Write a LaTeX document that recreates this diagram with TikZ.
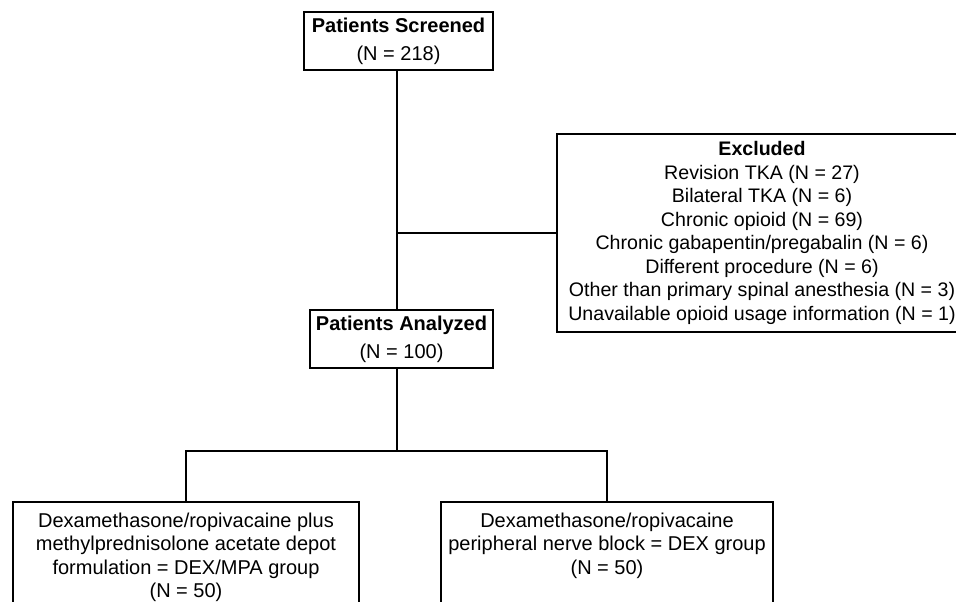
\documentclass[tikz,border=0pt]{standalone}
\usepackage{fontspec}
\setmainfont{Liberation Sans}
\begin{document}
\begin{tikzpicture}[x=0.75pt,y=-0.75pt]
	\tikzset{
		box/.style={draw,line width=1.5pt,inner sep=0pt,align=center},
		link/.style={line width=1.5pt},
		txt/.style={inner sep=0pt,align=center}
	}
	\fontsize{15}{17.6}\selectfont
	\useasboundingbox (0,0) rectangle (956,602);
	\clip (0,0) rectangle (956,602);
	
	\coordinate (trunk) at (397,0);
	
	% top boxes
	\node[box,minimum width=189*0.75pt,minimum height=58*0.75pt] (screened) at (398.5,41.5)
	{\textbf{Patients Screened}\\[3.4pt](N = 218)};
	\node[box,minimum width=183*0.75pt,minimum height=58*0.75pt] (analyzed) at (401.5,339)
	{\textbf{Patients Analyzed}\\[3.4pt](N = 100)};
	
	\node[box,font=\fontsize{14.7}{17.6}\selectfont,minimum width=410*0.75pt,minimum height=198*0.75pt] (excluded) at (762,233)
	{\textbf{Excluded}\\
		Revision TKA (N = 27)\\
		Bilateral TKA (N = 6)\\
		Chronic opioid (N = 69)\\
		Chronic gabapentin/pregabalin (N = 6)\\
		Different procedure (N = 6)\\
		Other than primary spinal anesthesia (N = 3)\\
		Unavailable opioid usage information (N = 1)};
	
	% group boxes
	\node[box,minimum width=346*0.75pt,minimum height=140*0.75pt,anchor=north] (dexmpa) at (186,501) {};
	\node[txt,anchor=north] (dexmpatxt) at (186,512.5)
	{Dexamethasone/ropivacaine plus\\
		methylprednisolone acetate depot\\
		formulation = DEX/MPA group\\
		(N = 50)};
	
	\node[box,minimum width=332*0.75pt,minimum height=140*0.75pt,anchor=north] (dex) at (607,501) {};
	\node[txt,anchor=north] (dextxt) at (607,512.5)
	{Dexamethasone/ropivacaine\\
		peripheral nerve block = DEX group\\
		(N = 50)};
	
	% connectors
	\draw[link] (screened.south -| trunk) -- (analyzed.north -| trunk);
	\draw[link] (excluded.west -| trunk) -- (excluded.west);
	\draw[link] (analyzed.south -| trunk) -- (trunk |- 0,451) coordinate (split);
	\draw[link] (dexmpa.north) |- (split) -| (dex.north);
	
\end{tikzpicture}
\end{document}
